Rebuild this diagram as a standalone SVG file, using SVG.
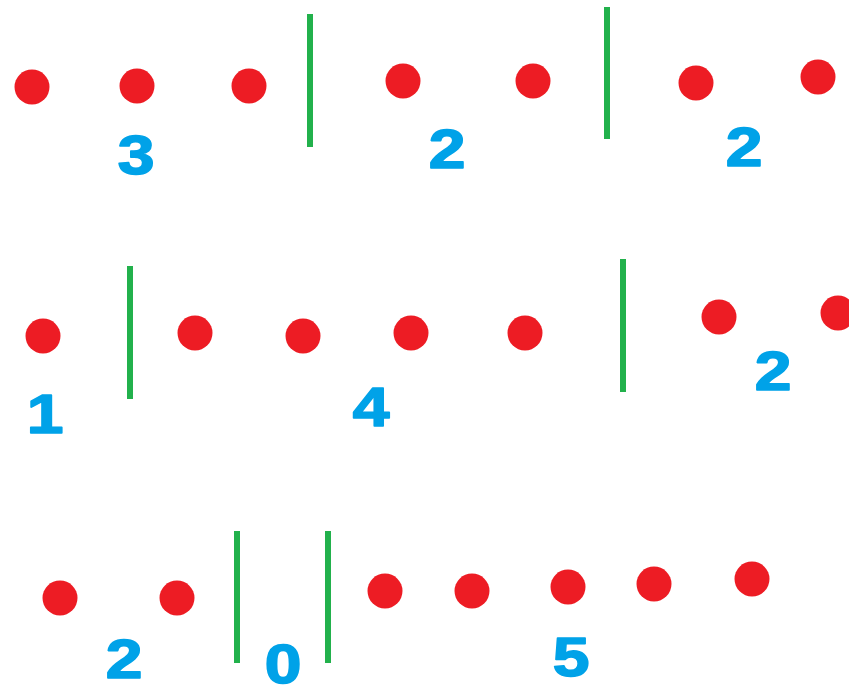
<svg xmlns="http://www.w3.org/2000/svg" width="849" height="687" viewBox="0 0 849 687">
<style>
.dot{fill:#ed1c24}
.bar{stroke:#22b14c;stroke-width:6;fill:none}
.num{fill:#00a2e8;stroke:#00a2e8;stroke-width:1.6;stroke-linejoin:round;font-family:"Liberation Sans",Arial,sans-serif;font-weight:bold;font-size:55px;text-anchor:middle}
</style>
<rect width="849" height="687" fill="#ffffff"/>
<g id="dots">
<circle class="dot" cx="32" cy="87" r="17.5"/>
<circle class="dot" cx="137" cy="86" r="17.5"/>
<circle class="dot" cx="249" cy="86" r="17.5"/>
<circle class="dot" cx="403" cy="81" r="17.5"/>
<circle class="dot" cx="533" cy="81" r="17.5"/>
<circle class="dot" cx="696" cy="83" r="17.5"/>
<circle class="dot" cx="818" cy="77" r="17.5"/>
<circle class="dot" cx="43" cy="336" r="17.5"/>
<circle class="dot" cx="195" cy="333" r="17.5"/>
<circle class="dot" cx="303" cy="336" r="17.5"/>
<circle class="dot" cx="411" cy="333" r="17.5"/>
<circle class="dot" cx="525" cy="333" r="17.5"/>
<circle class="dot" cx="719" cy="317" r="17.5"/>
<circle class="dot" cx="838" cy="313" r="17.5"/>
<circle class="dot" cx="60" cy="598" r="17.5"/>
<circle class="dot" cx="177" cy="598" r="17.5"/>
<circle class="dot" cx="385" cy="591" r="17.5"/>
<circle class="dot" cx="472" cy="591" r="17.5"/>
<circle class="dot" cx="568" cy="587" r="17.5"/>
<circle class="dot" cx="654" cy="584" r="17.5"/>
<circle class="dot" cx="752" cy="579" r="17.5"/>
</g>
<g id="bars">
<line class="bar" x1="310" y1="14" x2="310" y2="147"/>
<line class="bar" x1="607" y1="7" x2="607" y2="139"/>
<line class="bar" x1="130" y1="266" x2="130" y2="399"/>
<line class="bar" x1="623" y1="259" x2="623" y2="392"/>
<line class="bar" x1="237" y1="531" x2="237" y2="663"/>
<line class="bar" x1="328" y1="531" x2="328" y2="663"/>
</g>
<g id="labels">
<text class="num" transform="translate(136,174) scale(1.2,1)">3</text>
<text class="num" transform="translate(447,168) scale(1.2,1)">2</text>
<text class="num" transform="translate(744,166) scale(1.2,1)">2</text>
<text class="num" transform="translate(45,433) scale(1.2,1)">1</text>
<text class="num" transform="translate(371,426) scale(1.2,1)">4</text>
<text class="num" transform="translate(773,390) scale(1.2,1)">2</text>
<text class="num" transform="translate(124,678) scale(1.2,1)">2</text>
<text class="num" transform="translate(283,683) scale(1.2,1)">0</text>
<text class="num" transform="translate(571,676) scale(1.2,1)">5</text>
</g>
</svg>
